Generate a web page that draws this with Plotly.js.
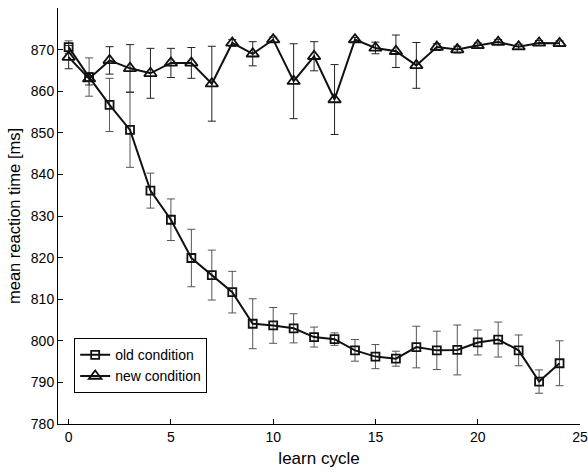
<!DOCTYPE html>
<html>
<head>
<meta charset="utf-8">
<script src="https://cdn.plot.ly/plotly-3.0.1.min.js"></script>
<style>html,body{margin:0;padding:0;background:#fff;}#chart{width:588px;height:475px;}</style>
</head>
<body>
<div id="chart"></div>
<script>
const cycles = [0,1,2,3,4,5,6,7,8,9,10,11,12,13,14,15,16,17,18,19,20,21,22,23,24];
const oldMean = [870.6, 863.4, 856.7, 850.7, 836.1, 829.1, 819.9, 815.8, 811.7, 804.1, 803.7, 803.0, 800.9, 800.4, 797.7, 796.2, 795.7, 798.5, 797.7, 797.8, 799.6, 800.3, 797.7, 790.2, 794.6];
const oldErr = [1.5, 4.6, 6.4, 9.0, 4.2, 5.0, 6.9, 6.0, 5.0, 6.0, 4.3, 3.5, 2.4, 1.5, 2.6, 2.9, 1.8, 5.0, 4.6, 6.0, 3.0, 4.2, 3.7, 2.8, 5.4];
const newMean = [868.2, 863.0, 867.4, 865.5, 864.3, 866.8, 866.8, 861.8, 871.6, 869.0, 872.4, 862.4, 868.4, 858.0, 872.4, 870.4, 869.6, 866.2, 870.6, 870.0, 871.0, 871.8, 870.7, 871.6, 871.5];
const newErr = [2.8, 1.5, 3.3, 5.7, 6.0, 3.5, 3.7, 9.0, 0.8, 2.9, 0.6, 9.0, 3.5, 8.4, 0.5, 1.4, 3.9, 5.5, 0.8, 0.8, 0.6, 0.6, 0.6, 0.6, 0.6];
const seriesNames = ["old condition", "new condition"];

const traces = [
  {
    x: cycles, y: oldMean, name: seriesNames[0], type: 'scatter', mode: 'lines+markers',
    line: {color: '#111', width: 2},
    marker: {symbol: 'square-open', size: 8, color: '#111', line: {width: 1.8, color: '#111'}},
    error_y: {type: 'data', array: oldErr, visible: true, color: '#555', thickness: 1, width: 4}
  },
  {
    x: cycles, y: newMean, name: seriesNames[1], type: 'scatter', mode: 'lines+markers',
    line: {color: '#111', width: 2},
    marker: {symbol: 'triangle-up-open', size: 11, color: '#111', line: {width: 1.8, color: '#111'}},
    error_y: {type: 'data', array: newErr, visible: true, color: '#222', thickness: 1, width: 4}
  }
];

const layout = {
  width: 588, height: 475,
  margin: {l: 58, r: 8, t: 8, b: 51},
  paper_bgcolor: '#fff', plot_bgcolor: '#fff',
  font: {family: 'Liberation Sans, Arial, sans-serif', size: 14, color: '#000'},
  showlegend: true,
  legend: {
    x: 0.031, y: 0.074, xanchor: 'left', yanchor: 'bottom',
    bordercolor: '#000', borderwidth: 1, bgcolor: '#fff',
    font: {size: 14}, tracegroupgap: 0, itemwidth: 30
  },
  xaxis: {
    range: [-0.52, 25], dtick: 5, tick0: 0,
    showgrid: false, zeroline: false,
    showline: true, linecolor: '#000', linewidth: 1,
    ticks: 'inside', ticklen: 5, tickcolor: '#000',
    tickfont: {size: 14},
    title: {text: 'learn cycle', font: {size: 17}, standoff: 8}
  },
  yaxis: {
    range: [780, 880], dtick: 10,
    showgrid: false, zeroline: false,
    showline: true, linecolor: '#000', linewidth: 1,
    ticks: 'inside', ticklen: 5, tickcolor: '#000',
    tickfont: {size: 14},
    title: {text: 'mean reaction time [ms]', font: {size: 16.5}, standoff: 6}
  }
};

Plotly.newPlot('chart', traces, layout, {displayModeBar: false, staticPlot: true});
</script>
</body>
</html>
